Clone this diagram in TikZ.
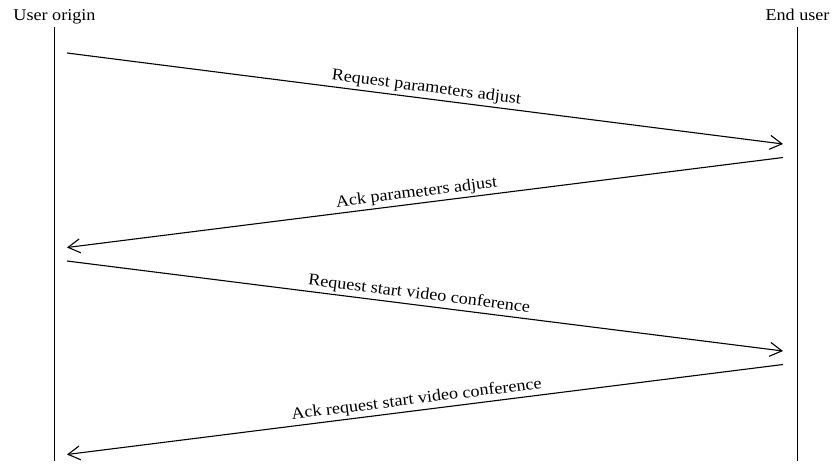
\documentclass[tikz,border=0pt]{standalone}
\usepackage{fontspec}
\setmainfont{Liberation Serif}[FakeStretch=1.1]
\usetikzlibrary{arrows.meta}
\begin{document}
\begin{tikzpicture}[x=1pt,y=-1pt,
  lifeline/.style={line width=1.1pt},
  actor/.style={anchor=base,inner sep=0pt,font=\fontsize{16.5}{19}\selectfont},
  msg/.style={line width=1.1pt,-{Straight Barb[length=12pt,width=14pt,line width=1.1pt]}},
  msglabel/.style={sloped,above,inner sep=2.5pt,font=\fontsize{16.5}{19}\selectfont}]
  \useasboundingbox (0,0) rectangle (833,464);
  % participants
  \node[actor] (uo) at (54.5,20.5) {User origin};
  \node[actor] (eu) at (797.5,20.5) {End user};
  \coordinate (uotop) at (54.5,27);
  \coordinate (uobot) at (54.5,461);
  \coordinate (eutop) at (797.5,27);
  \coordinate (eubot) at (797.5,461);
  \draw[lifeline] (uotop) -- (uobot);
  \draw[lifeline] (eutop) -- (eubot);
  % message end points
  \coordinate (m1s) at (67,53);
  \coordinate (m1e) at (783,144);
  \coordinate (m2s) at (783,157.5);
  \coordinate (m2e) at (67,247.5);
  \coordinate (m3s) at (67,261);
  \coordinate (m3e) at (783,351);
  \coordinate (m4s) at (783,364.5);
  \coordinate (m4e) at (67,454.5);
  % messages
  \draw[msg] (m1s) -- node[msglabel,pos=0.5] {Request parameters adjust} (m1e);
  \draw[msg] (m2s) -- node[msglabel,pos=0.51] {Ack parameters adjust} (m2e);
  \draw[msg] (m3s) -- node[msglabel,pos=0.49] {Request start video conference} (m3e);
  \draw[msg] (m4s) -- node[msglabel,pos=0.51] {Ack request start video conference} (m4e);
\end{tikzpicture}
\end{document}
